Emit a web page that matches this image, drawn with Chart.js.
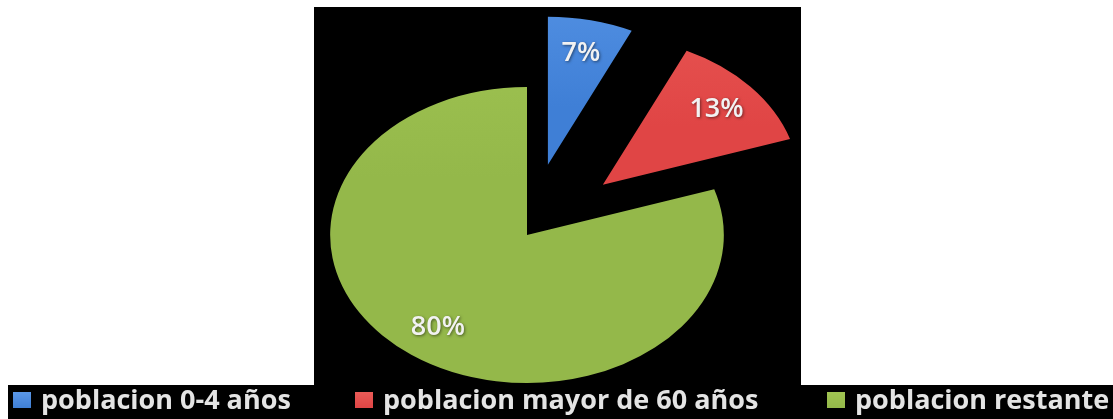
<!DOCTYPE html>
<html>
<head>
<meta charset="utf-8">
<script src="https://cdn.jsdelivr.net/npm/chart.js@4/dist/chart.umd.min.js"></script>
<style>
    html, body { margin: 0; padding: 0; background: #fff; width: 1113px; height: 419px; overflow: hidden; }
    #box { position: absolute; left: 314px; top: 7px; width: 487px; height: 378px; background: #000; }
    #strip { position: absolute; left: 8px; top: 385px; width: 1105px; height: 34px; background: #000; }
    .item { position: absolute; top: 0; height: 34px; white-space: nowrap; }
    .sw { position: absolute; top: 7px; width: 18px; height: 16px; }
    .txt { position: absolute; left: 28px; top: -3px; font: bold 27px "Open Sans", sans-serif; color: #e4e4e4; line-height: 34px; }
</style>
</head>
<body>
<div id="box"><canvas id="pie" width="487" height="378"></canvas></div>
<div id="strip"></div>

<script>
// Datos
const labels = ['poblacion 0-4 años', 'poblacion mayor de 60 años', 'poblacion restante'];
const values = [7, 13, 80];

// Estilo
const colors = ['#3f7fd6', '#e04545', '#94b84a'];
const colorsTop = ['#5b98e8', '#ea5b57', '#a0c452'];
const explode = [72, 76, 0];      // separación de cada porción
const legendLeft = [5, 347, 819];
const STRETCH_X = 1.33;           // la torta original es elíptica (vista 3D)
const LABEL_R = 0.77;

// Degradado vertical suave, como el brillo del original
function shade(context) {
    const chart = context.chart;
    const i = context.dataIndex;
    if (!chart.chartArea || i === undefined) return colors[i];
    const g = chart.ctx.createLinearGradient(0, 0, 0, chart.height);
    g.addColorStop(0, colorsTop[i]);
    g.addColorStop(0.45, colors[i]);
    g.addColorStop(1, colors[i]);
    return g;
}

// Dibuja cada porción separada y estirada en horizontal
const squash = {
    id: 'squash',
    beforeDatasetDraw(chart, args) {
        const ctx = chart.ctx;
        args.meta.data.forEach((arc, i) => {
            const mid = (arc.startAngle + arc.endAngle) / 2;
            const dx = Math.cos(mid) * explode[i] * STRETCH_X;
            const dy = Math.sin(mid) * explode[i];
            ctx.save();
            ctx.translate(arc.x + dx, arc.y + dy);
            ctx.scale(STRETCH_X, 1);
            ctx.translate(-arc.x, -arc.y);
            arc.draw(ctx);
            ctx.restore();
        });
        return false;
    },
    afterDatasetsDraw(chart) {
        const ctx = chart.ctx;
        const meta = chart.getDatasetMeta(0);
        ctx.save();
        ctx.font = '600 27px "Open Sans", sans-serif';
        ctx.textAlign = 'center';
        ctx.textBaseline = 'middle';
        ctx.fillStyle = '#f2f2f2';
        ctx.shadowColor = 'rgba(0,0,0,0.5)';
        ctx.shadowBlur = 3;
        ctx.shadowOffsetX = 1;
        ctx.shadowOffsetY = 1;
        meta.data.forEach((arc, i) => {
            const mid = (arc.startAngle + arc.endAngle) / 2;
            const r = arc.outerRadius * LABEL_R + explode[i];
            const x = arc.x + Math.cos(mid) * r * STRETCH_X;
            const y = arc.y + Math.sin(mid) * r;
            ctx.fillText(values[i] + '%', x, y);
        });
        ctx.restore();
    }
};

const chart = new Chart(document.getElementById('pie').getContext('2d'), {
    type: 'pie',
    data: {
        labels: labels,
        datasets: [{
            data: values,
            backgroundColor: shade,
            borderWidth: 0
        }]
    },
    options: {
        responsive: false,
        animation: false,
        radius: 148,
        layout: {
            padding: { left: 0, right: 61, top: 78, bottom: 0 }
        },
        plugins: {
            legend: { display: false },
            tooltip: { enabled: false }
        }
    },
    plugins: [squash]
});

// Leyenda en la franja negra inferior
const strip = document.getElementById('strip');
chart.data.labels.forEach((lab, i) => {
    const item = document.createElement('div');
    item.className = 'item';
    item.style.left = legendLeft[i] + 'px';
    const sw = document.createElement('span');
    sw.className = 'sw';
    sw.style.background = 'linear-gradient(' + colorsTop[i] + ', ' + colors[i] + ')';
    const txt = document.createElement('span');
    txt.className = 'txt';
    txt.textContent = lab;
    item.appendChild(sw);
    item.appendChild(txt);
    strip.appendChild(item);
});
</script>
</body>
</html>
